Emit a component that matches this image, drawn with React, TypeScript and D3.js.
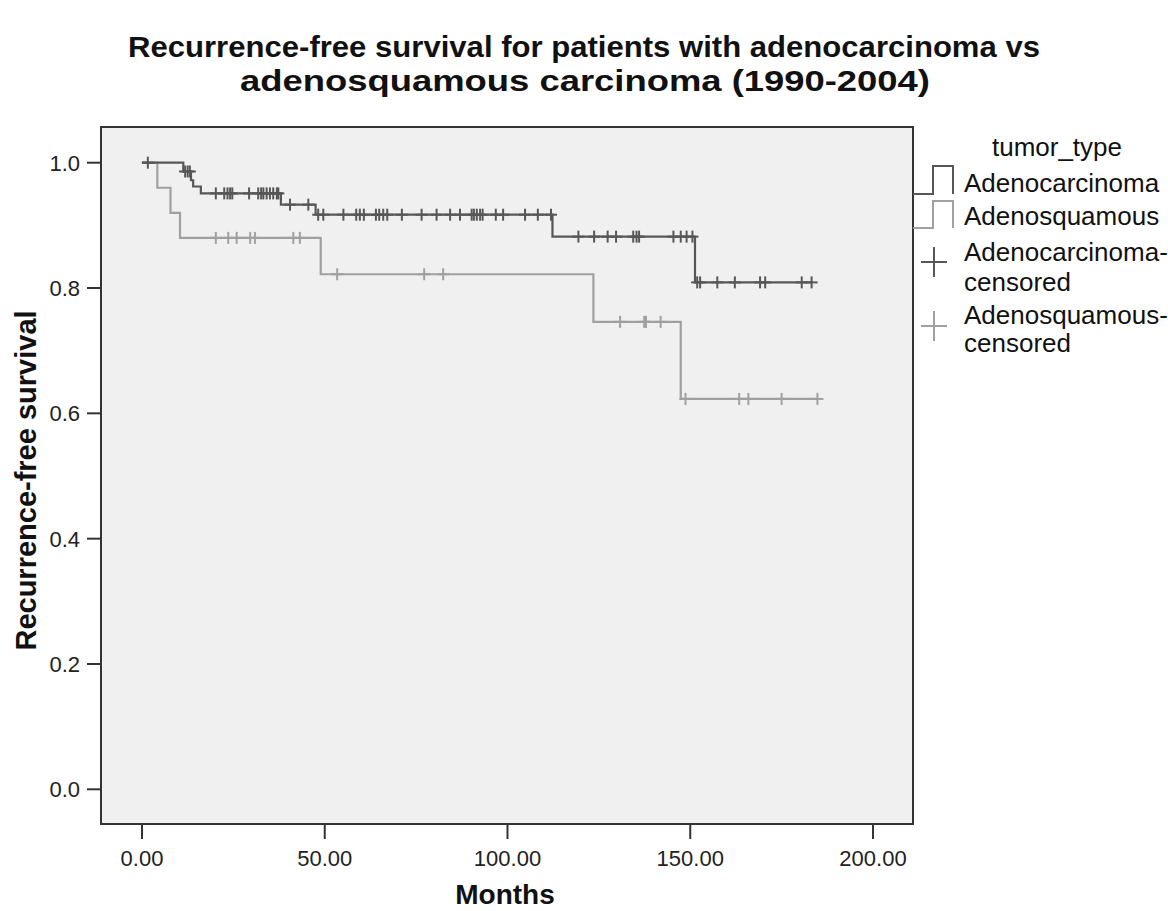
import React from "react";
import * as d3 from "d3";

// step changes of the Kaplan-Meier curves (time in months, survival after step)
const adenoStepTimes = [0, 11.3, 13.4, 14.0, 16.1, 38.0, 47.5, 112.3, 151.3];
const adenoStepSurv = [1.0, 0.986, 0.972, 0.962, 0.951, 0.933, 0.917, 0.882, 0.809];
const adenoCensored = [
  1.6, 11.8, 12.5, 13.1, 20.2, 22.5, 23.4, 24.1, 24.7, 29.3, 31.8, 32.6, 33.2, 34.1, 35.0,
  35.9, 36.9, 37.3, 40.5, 45.5, 48.2, 49.6, 55.1, 58.6, 59.6, 60.7, 64.0, 64.9, 66.0, 67.1,
  71.1, 76.5, 80.6, 84.3, 87.0, 90.2, 90.8, 91.6, 92.5, 93.2, 96.8, 98.8, 104.8, 108.3,
  111.9, 119.4, 123.7, 127.4, 129.7, 134.4, 135.3, 136.0, 145.4, 147.4, 149.0, 150.6,
  151.9, 152.7, 157.4, 162.2, 169.1, 170.5, 180.5, 183.2,
];

const squamStepTimes = [0, 4.2, 7.8, 10.4, 48.9, 123.5, 147.4];
const squamStepSurv = [1.0, 0.96, 0.92, 0.88, 0.822, 0.746, 0.623];
const squamCensored = [
  20.2, 23.6, 25.9, 29.6, 30.9, 41.4, 43.2, 53.4, 77.2, 82.4, 130.8, 137.4, 137.9, 141.9,
  148.7, 163.4, 165.9, 175.0, 184.8,
];

const xTicks = [0, 50, 100, 150, 200];
const yTicks = [0, 0.2, 0.4, 0.6, 0.8, 1.0];

const titleLines = [
  "Recurrence-free survival for patients with adenocarcinoma vs",
  "adenosquamous carcinoma (1990-2004)",
];
const legendTitle = "tumor_type";
const legendLabels = ["Adenocarcinoma", "Adenosquamous"];

const DARK = "#575757";
const LIGHT = "#a0a0a0";
const FONT = "'Liberation Sans', Arial, sans-serif";

const W = 1168;
const H = 911;
const box = { left: 101, right: 913, top: 127, bottom: 824 };

const x = d3.scaleLinear().domain([0, 200]).range([142, 873]);
const y = d3.scaleLinear().domain([0, 1]).range([789.3, 162.7]);

function survAt(times: number[], surv: number[], t: number) {
  const i = d3.bisectRight(times, t) - 1;
  return surv[Math.max(0, i)];
}

function curve(times: number[], surv: number[], censored: number[]) {
  const end = d3.max(censored) as number;
  const pts = times.map((t, i) => [t, surv[i]] as [number, number]);
  pts.push([end, surv[surv.length - 1]]);
  const line = d3
    .line<[number, number]>()
    .x((d) => x(d[0]))
    .y((d) => y(d[1]))
    .curve(d3.curveStepAfter);
  return line(pts) || "";
}

const Cross = ({ cx, cy, hw, hh, color }: any) => (
  <g stroke={color} strokeWidth={2}>
    <line x1={cx - hw} x2={cx + hw} y1={cy} y2={cy} />
    <line x1={cx} x2={cx} y1={cy - hh} y2={cy + hh} />
  </g>
);

export default function App() {
  const series = [
    { times: squamStepTimes, surv: squamStepSurv, cens: squamCensored, color: LIGHT },
    { times: adenoStepTimes, surv: adenoStepSurv, cens: adenoCensored, color: DARK },
  ];

  return (
    <svg
      width={W}
      height={H}
      style={{ position: "absolute", left: 0, top: 0, background: "#fff" }}
      fontFamily={FONT}
    >
      <rect x={0} y={0} width={W} height={H} fill="#fff" />

      {/* title */}
      <text
        x={584}
        y={57}
        textAnchor="middle"
        fontSize={29}
        fontWeight="bold"
        fill="#111"
        textLength={912}
        lengthAdjust="spacingAndGlyphs"
      >
        {titleLines[0]}
      </text>
      <text
        x={585}
        y={91}
        textAnchor="middle"
        fontSize={29}
        fontWeight="bold"
        fill="#111"
        textLength={690}
        lengthAdjust="spacingAndGlyphs"
      >
        {titleLines[1]}
      </text>

      {/* plot area */}
      <rect
        x={box.left}
        y={box.top}
        width={box.right - box.left}
        height={box.bottom - box.top}
        fill="#f0f0f0"
        stroke="#333"
        strokeWidth={2}
      />

      {/* y axis */}
      {yTicks.map((t) => (
        <g key={t}>
          <line x1={87} x2={box.left} y1={y(t)} y2={y(t)} stroke="#333" strokeWidth={2} />
          <text x={80} y={y(t) + 8} textAnchor="end" fontSize={22} fill="#222">
            {d3.format(".1f")(t)}
          </text>
        </g>
      ))}
      <text
        transform={`translate(36,${(box.top + box.bottom) / 2 + 5}) rotate(-90)`}
        textAnchor="middle"
        fontSize={29}
        fontWeight="bold"
        fill="#111"
      >
        Recurrence-free survival
      </text>

      {/* x axis */}
      {xTicks.map((t) => (
        <g key={t}>
          <line x1={x(t)} x2={x(t)} y1={box.bottom} y2={839} stroke="#333" strokeWidth={2} />
          <text x={x(t)} y={866} textAnchor="middle" fontSize={22} fill="#222">
            {d3.format(".2f")(t)}
          </text>
        </g>
      ))}
      <text x={505} y={904} textAnchor="middle" fontSize={28} fontWeight="bold" fill="#111">
        Months
      </text>

      {/* curves */}
      {series.map((s, i) => (
        <g key={i}>
          <path d={curve(s.times, s.surv, s.cens)} fill="none" stroke={s.color} strokeWidth={2.2} />
          {s.cens.map((c, j) => (
            <Cross key={j} cx={x(c)} cy={y(survAt(s.times, s.surv, c))} hw={6} hh={6} color={s.color} />
          ))}
        </g>
      ))}

      {/* legend */}
      <text x={1057} y={156} textAnchor="middle" fontSize={26} fill="#111">
        {legendTitle}
      </text>
      <path d="M913,194 H933 V166 H953 V194" fill="none" stroke={DARK} strokeWidth={2} />
      <path d="M913,228 H933 V201 H953 V228" fill="none" stroke={LIGHT} strokeWidth={2} />
      <text x={964} y={192} fontSize={26} fill="#111">
        {legendLabels[0]}
      </text>
      <text x={964} y={225} fontSize={26} fill="#111">
        {legendLabels[1]}
      </text>
      <Cross cx={934} cy={262} hw={13} hh={15} color={DARK} />
      <text x={964} y={261} fontSize={26} fill="#111">
        {legendLabels[0]}-
      </text>
      <text x={964} y={291} fontSize={26} fill="#111">
        censored
      </text>
      <Cross cx={934} cy={326} hw={13} hh={15} color={LIGHT} />
      <text x={964} y={324} fontSize={26} fill="#111">
        {legendLabels[1]}-
      </text>
      <text x={964} y={352} fontSize={26} fill="#111">
        censored
      </text>
    </svg>
  );
}
